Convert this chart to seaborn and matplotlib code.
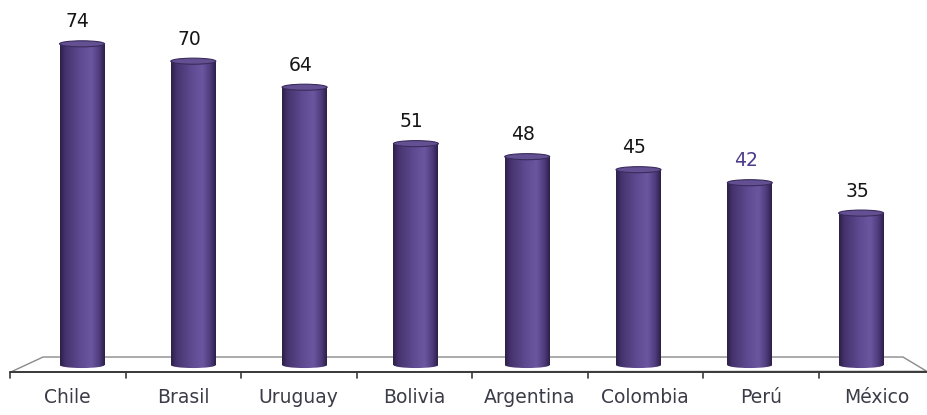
import numpy as np
import pandas as pd
import matplotlib
matplotlib.use("Agg")
import matplotlib.pyplot as plt
import seaborn as sns
from matplotlib.patches import Ellipse, Polygon
from matplotlib.colors import LinearSegmentedColormap

countries = ["Chile", "Brasil", "Uruguay", "Bolivia", "Argentina", "Colombia", "Perú", "México"]
values = [74, 70, 64, 51, 48, 45, 42, 35]

sns.set_style("white")
plt.rcParams['font.family'] = ['DejaVu Sans']

fig = plt.figure(figsize=(9.27, 4.15), dpi=100)
ax = fig.add_axes([0, 0, 1, 1])
df = pd.DataFrame({"country": countries, "value": values})
sns.barplot(data=df, x="country", y="value", color="#5a4888", width=0.404,
            ax=ax, zorder=3, saturation=1, linewidth=0)
bars = list(ax.patches)

XL = (-0.737, 7.592)
YL = (-11.52, 84.1)

# floor plane
floor = Polygon([(-0.35, 1.84), (7.376, 1.84), (7.59, -1.45), (-0.64, -1.61)],
                closed=True, fc="white", ec="#8a8a8a", lw=1.0, zorder=1)
ax.add_patch(floor)
ax.plot([-0.647, 7.592], [-1.61, -1.61], color="#3a3a3a", lw=1.4, zorder=2)

cmap = LinearSegmentedColormap.from_list(
    "cyl", [(0.0, "#2c1f47"), (0.12, "#45336e"), (0.45, "#5e4a90"),
            (0.7, "#6b57a0"), (0.88, "#4e3b7c"), (1.0, "#2c1f47")])
grad = np.linspace(0, 1, 256).reshape(1, -1)
eh = 1.4

for i, p in enumerate(bars):
    x0, w, h = p.get_x(), p.get_width(), p.get_height()
    cx = x0 + w / 2
    im = ax.imshow(grad, extent=[x0, x0 + w, 0, h], aspect="auto", cmap=cmap,
                   zorder=4, interpolation="bicubic")
    im.set_clip_path(p)
    bot = Ellipse((cx, 0), w, eh, fc="none", ec="none", zorder=3)
    ax.add_patch(bot)
    im2 = ax.imshow(grad, extent=[x0, x0 + w, -eh, eh], aspect="auto", cmap=cmap,
                    zorder=3.5, interpolation="bicubic")
    im2.set_clip_path(bot)
    top = Ellipse((cx, h), w, eh, fc="#625092", ec="#3a2b5c", lw=0.8, zorder=5)
    ax.add_patch(top)
    col = "#4b3b8a" if countries[i] == "Perú" else "#151515"
    ax.annotate(str(values[i]), (cx, h), xytext=(-3, 9), textcoords="offset points",
                ha="center", va="bottom", fontsize=13.5, color=col, zorder=6)

# front-edge ticks and category labels
for k in range(len(countries) + 1):
    tx = (10 + 115.5 * k - 82) / 111.3
    ax.plot([tx, tx], [-1.61, -3.0], color="#3a3a3a", lw=1.2, zorder=2)
for k, c in enumerate(countries):
    lx = (67.75 + 115.5 * k - 82) / 111.3
    ax.text(lx, -7.6, c, ha="center", va="center", fontsize=13.5, color="#3c3c48")

ax.set_xlim(*XL)
ax.set_ylim(*YL)
ax.axis("off")
fig.savefig("out.png", dpi=100)
